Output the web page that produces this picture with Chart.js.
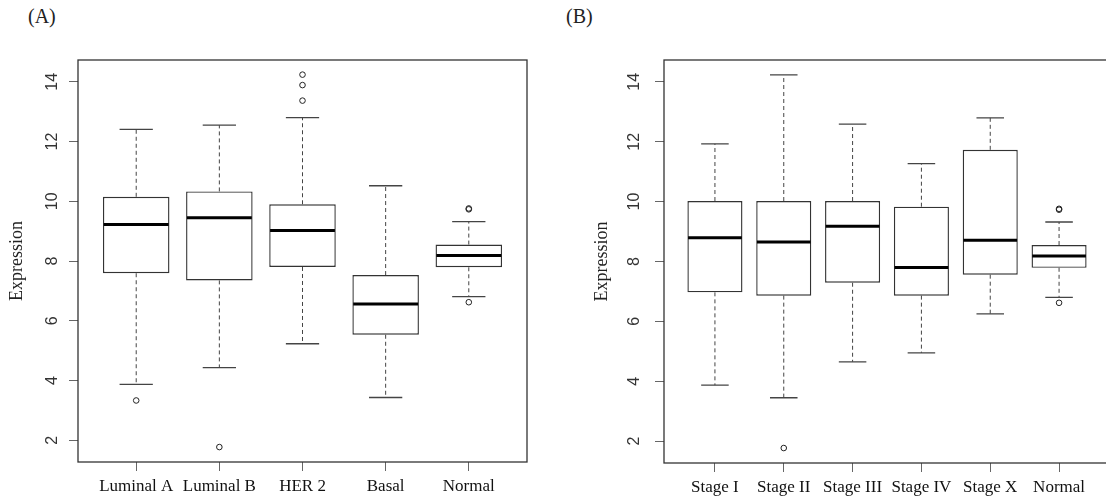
<!DOCTYPE html>
<html>
<head>
<meta charset="utf-8">
<script src="https://cdn.jsdelivr.net/npm/chart.js@4.4.1/dist/chart.umd.min.js"></script>
<style>
  html, body { margin: 0; padding: 0; background: #fff; overflow: hidden; }
  body { width: 1106px; height: 501px; position: relative; }
  .tag { position: absolute; top: 6px; font-family: 'Liberation Serif', serif; font-size: 20px; line-height: 20px; color: #222; }
  canvas { position: absolute; top: 0; }
</style>
</head>
<body>
<div class="tag" style="left:28px">(A)</div>
<div class="tag" style="left:566px">(B)</div>
<canvas id="chartA" width="560" height="501" style="left:0"></canvas>
<canvas id="chartB" width="560" height="501" style="left:560px"></canvas>
<script>
// setup
const yTicks = [2, 4, 6, 8, 10, 12, 14];

// (A) subtypes
const catsA = ['Luminal A', 'Luminal B', 'HER 2', 'Basal', 'Normal'];
const minA = [3.87, 4.43, 5.23, 3.43, 6.81];
const q1A  = [7.59, 7.35, 7.80, 5.53, 7.79];
const medA = [9.22, 9.45, 9.02, 6.56, 8.18];
const q3A  = [10.15, 10.33, 9.90, 7.53, 8.55];
const maxA = [12.41, 12.55, 12.80, 10.52, 9.32];
const outA = [[3.33], [1.77], [14.24, 13.89, 13.37], [], [9.73, 9.76, 6.62]];

// (B) stages
const catsB = ['Stage I', 'Stage II', 'Stage III', 'Stage IV', 'Stage X', 'Normal'];
const minB = [3.87, 3.45, 4.65, 4.95, 6.25, 6.80];
const q1B  = [6.97, 6.86, 7.29, 6.86, 7.56, 7.79];
const medB = [8.79, 8.65, 9.18, 7.80, 8.71, 8.18];
const q3B  = [10.02, 10.02, 10.02, 9.83, 11.73, 8.55];
const maxB = [11.93, 14.23, 12.59, 11.27, 12.80, 9.32];
const outB = [[], [1.77], [], [], [], [9.73, 9.76, 6.62]];

// frame + rotated y labels (R style)
const boxFrame = {
  id: 'boxFrame',
  afterDraw(chart, args, opts) {
    const {ctx, chartArea: a} = chart;
    const y = chart.scales.y;
    ctx.save();
    ctx.strokeStyle = '#333';
    ctx.lineWidth = 1.3;
    ctx.strokeRect(a.left, a.top, a.right - a.left, a.bottom - a.top);
    ctx.fillStyle = '#333';
    ctx.font = '16px "Liberation Sans"';
    ctx.textAlign = 'center';
    ctx.textBaseline = 'middle';
    y.ticks.forEach(t => {
      ctx.save();
      ctx.translate(a.left - opts.gap, y.getPixelForValue(t.value));
      ctx.rotate(-Math.PI / 2);
      ctx.fillText(String(t.value), 0, 0);
      ctx.restore();
    });
    ctx.restore();
  }
};

function drawPanel(id, cats, lo, q1, med, q3, hi, outs, cfg) {
  const xs = cats.map((c, i) => i + 1);
  const boxes = xs.map((x, i) => ({x: x, y: [q1[i], q3[i]]}));
  const whisk = xs.flatMap((x, i) => [
    {x: x, y: q3[i]}, {x: x, y: hi[i]}, {x: x, y: null},
    {x: x, y: q1[i]}, {x: x, y: lo[i]}, {x: x, y: null}
  ]);
  const caps = xs.flatMap((x, i) => [
    {x: x - 0.2, y: hi[i]}, {x: x + 0.2, y: hi[i]}, {x: x + 0.2, y: null},
    {x: x - 0.2, y: lo[i]}, {x: x + 0.2, y: lo[i]}, {x: x + 0.2, y: null}
  ]);
  const meds = xs.flatMap((x, i) => [
    {x: x - 0.39, y: med[i]}, {x: x + 0.39, y: med[i]}, {x: x + 0.39, y: null}
  ]);
  const pts = xs.flatMap((x, i) => outs[i].map(v => ({x: x, y: v})));

  return new Chart(document.getElementById(id), {
    type: 'bar',
    data: {
      datasets: [
        {type: 'line', data: whisk, borderColor: '#444', borderWidth: 1, borderDash: [4, 3],
         pointRadius: 0, fill: false, spanGaps: false, order: 4},
        {type: 'line', data: caps, borderColor: '#444', borderWidth: 1.3,
         pointRadius: 0, fill: false, spanGaps: false, order: 3},
        {data: boxes, backgroundColor: '#fff', borderColor: '#333', borderWidth: 1.4,
         borderSkipped: false, categoryPercentage: 0.8, barPercentage: 1, order: 2},
        {type: 'line', data: meds, borderColor: '#000', borderWidth: 3,
         pointRadius: 0, fill: false, spanGaps: false, order: 1},
        {type: 'scatter', data: pts, pointRadius: 2.8, borderWidth: 1, borderColor: '#222',
         backgroundColor: 'rgba(255,255,255,0)', order: 0}
      ]
    },
    options: {
      responsive: false,
      animation: false,
      devicePixelRatio: 1,
      events: [],
      layout: {padding: {left: 0, right: cfg.padR, top: 60, bottom: 0}},
      plugins: {legend: {display: false}, tooltip: {enabled: false}, boxFrame: {gap: cfg.gap}},
      scales: {
        x: {
          type: 'linear', min: cfg.xMin, max: cfg.xMax, offset: false, bounds: 'data',
          afterBuildTicks: ax => { ax.ticks = xs.map(v => ({value: v})); },
          afterFit: ax => { ax.height = cfg.xH; },
          ticks: {
            autoSkip: false, maxRotation: 0, minRotation: 0, padding: 5, color: '#111',
            font: {family: 'Liberation Serif', size: 17},
            callback: v => cats[Math.round(v) - 1]
          },
          grid: {offset: false, drawOnChartArea: false, drawTicks: true, tickLength: 9, color: '#666'},
          border: {display: false}
        },
        y: {
          type: 'linear', min: 1.27, max: 14.73, bounds: 'data',
          afterBuildTicks: ax => { ax.ticks = yTicks.map(v => ({value: v})); },
          afterFit: ax => { ax.width = cfg.yW; },
          ticks: {display: false},
          grid: {drawOnChartArea: false, drawTicks: true, tickLength: 9, color: '#666'},
          border: {display: false},
          title: {display: true, text: 'Expression', color: '#222',
                  font: {family: 'Liberation Serif', size: 18}, padding: {top: cfg.titlePad, bottom: 0}}
        }
      }
    },
    plugins: [boxFrame]
  });
}

drawPanel('chartA', catsA, minA, q1A, medA, q3A, maxA, outA,
  {xMin: 0.3, xMax: 5.7, yW: 78, padR: 33, xH: 39, gap: 25, titlePad: 6});
drawPanel('chartB', catsB, minB, q1B, medB, q3B, maxB, outB,
  {xMin: 0.26, xMax: 6.74, yW: 104, padR: 10, xH: 38, gap: 29, titlePad: 31});
</script>
</body>
</html>
